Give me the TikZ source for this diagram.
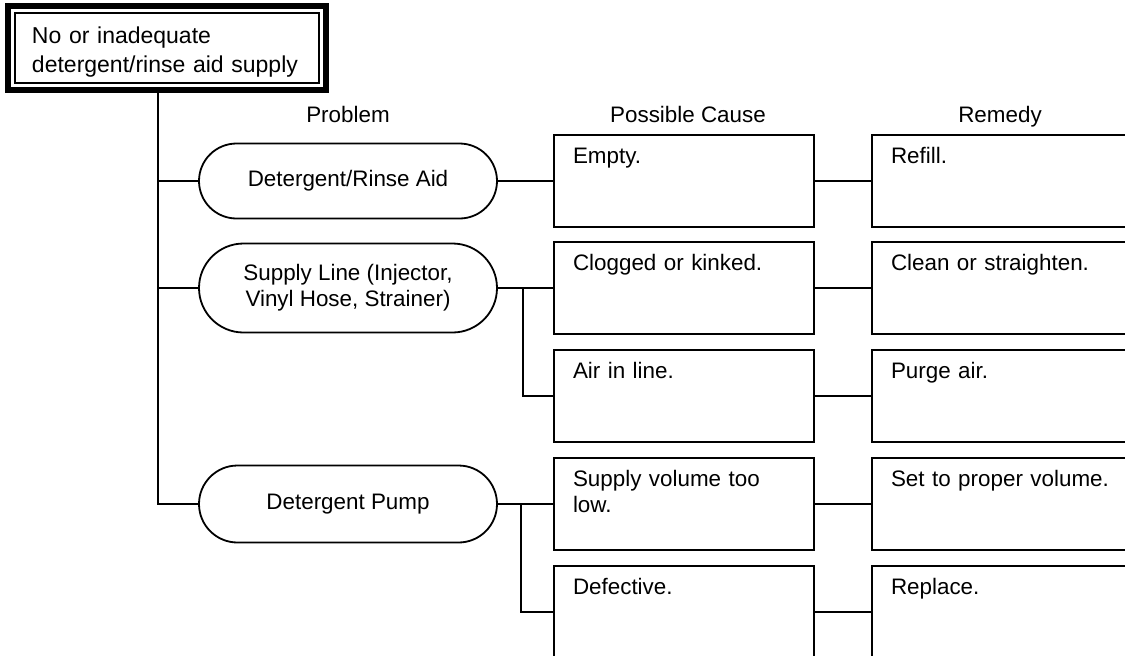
\documentclass[tikz,border=0pt]{standalone}
\usepackage{fontspec}
\setmainfont{Liberation Sans}
\usepackage{tikz}
\usetikzlibrary{shapes.misc, fit}
\tikzstyle{title} = [
	rectangle,
	draw=black,
	line width=0.6pt,
	text width=135pt,
	inner xsep=8.5pt,
	inner ysep=0pt,
	text height=15pt,
	text depth=20pt,
	align=left,
	font=\fontsize{11.5}{14.5}\selectfont
]
\tikzstyle{frame} = [draw=black, line width=3pt, inner sep=3pt]
\tikzstyle{pill} = [
	rounded rectangle,
	draw=black,
	line width=0.9pt,
	minimum width=149pt,
	inner sep=0pt,
	align=center
]
\tikzstyle{box} = [
	rectangle,
	draw=black,
	line width=1pt,
	text width=111pt,
	inner xsep=9.5pt,
	inner ysep=0pt,
	text height=14pt,
	text depth=32pt,
	align=left
]
\tikzstyle{head} = [anchor=base]
\tikzstyle{link} = [line width=0.65pt]

\begin{document}
\begin{tikzpicture}[x=0.5pt, y=-0.5pt, font=\fontsize{11.2}{13}\selectfont]
    \useasboundingbox (0, 0) rectangle (1125, 655);
    \clip (0, 0) rectangle (1125, 655);
    % fault
    \node[title] at (167, 48) (fault) {No or inadequate\\detergent/rinse aid supply};
    \node[frame, fit=(fault)] (fault frame) {};
    % column heads
    \node[head] at (348, 122) (head problem) {Problem};
    \node[head] at (688, 122) (head cause) {Possible Cause};
    \node[head] at (1000, 122) (head remedy) {Remedy};
    % problems
    \node[pill, minimum height=37.5pt] at (348, 181) (rinse aid) {Detergent/Rinse Aid};
    \node[pill, minimum height=44.5pt] at (348, 288) (supply line) {Supply Line (Injector,\\Vinyl Hose, Strainer)};
    \node[pill, minimum height=38.5pt] at (348, 504) (pump) {Detergent Pump};
    % causes
    \node[box] at (684, 181) (empty) {Empty.};
    \node[box] at (684, 288) (clogged) {Clogged or kinked.};
    \node[box] at (684, 396) (air) {Air in line.};
    \node[box] at (684, 504) (low volume) {Supply volume too\\low.};
    \node[box] at (684, 612) (defective) {Defective.};
    % remedies
    \node[box] at (1002, 181) (refill) {Refill.};
    \node[box] at (1002, 288) (clean) {Clean or straighten.};
    \node[box] at (1002, 396) (purge) {Purge air.};
    \node[box] at (1002, 504) (set volume) {Set to proper volume.};
    \node[box] at (1002, 612) (replace) {Replace.};
    % lines
    \coordinate (trunk) at (158, 0);
    \coordinate (split line) at (523, 0);
    \coordinate (split pump) at (521, 0);
    \draw[link] (trunk |- fault frame.south) -- (trunk |- pump.west) -- (pump.west);
    \draw[link] (trunk |- rinse aid.west) -- (rinse aid.west);
    \draw[link] (trunk |- supply line.west) -- (supply line.west);
    \draw[link] (rinse aid.east) -- (empty.west);
    \draw[link] (supply line.east) -- (clogged.west);
    \draw[link] (split line |- supply line.east) |- (air.west);
    \draw[link] (pump.east) -- (low volume.west);
    \draw[link] (split pump |- pump.east) |- (defective.west);
    \foreach \c/\r in {empty/refill, clogged/clean, air/purge, low volume/set volume, defective/replace}
      \draw[link] (\c.east) -- (\r.west);
\end{tikzpicture}
\end{document}
